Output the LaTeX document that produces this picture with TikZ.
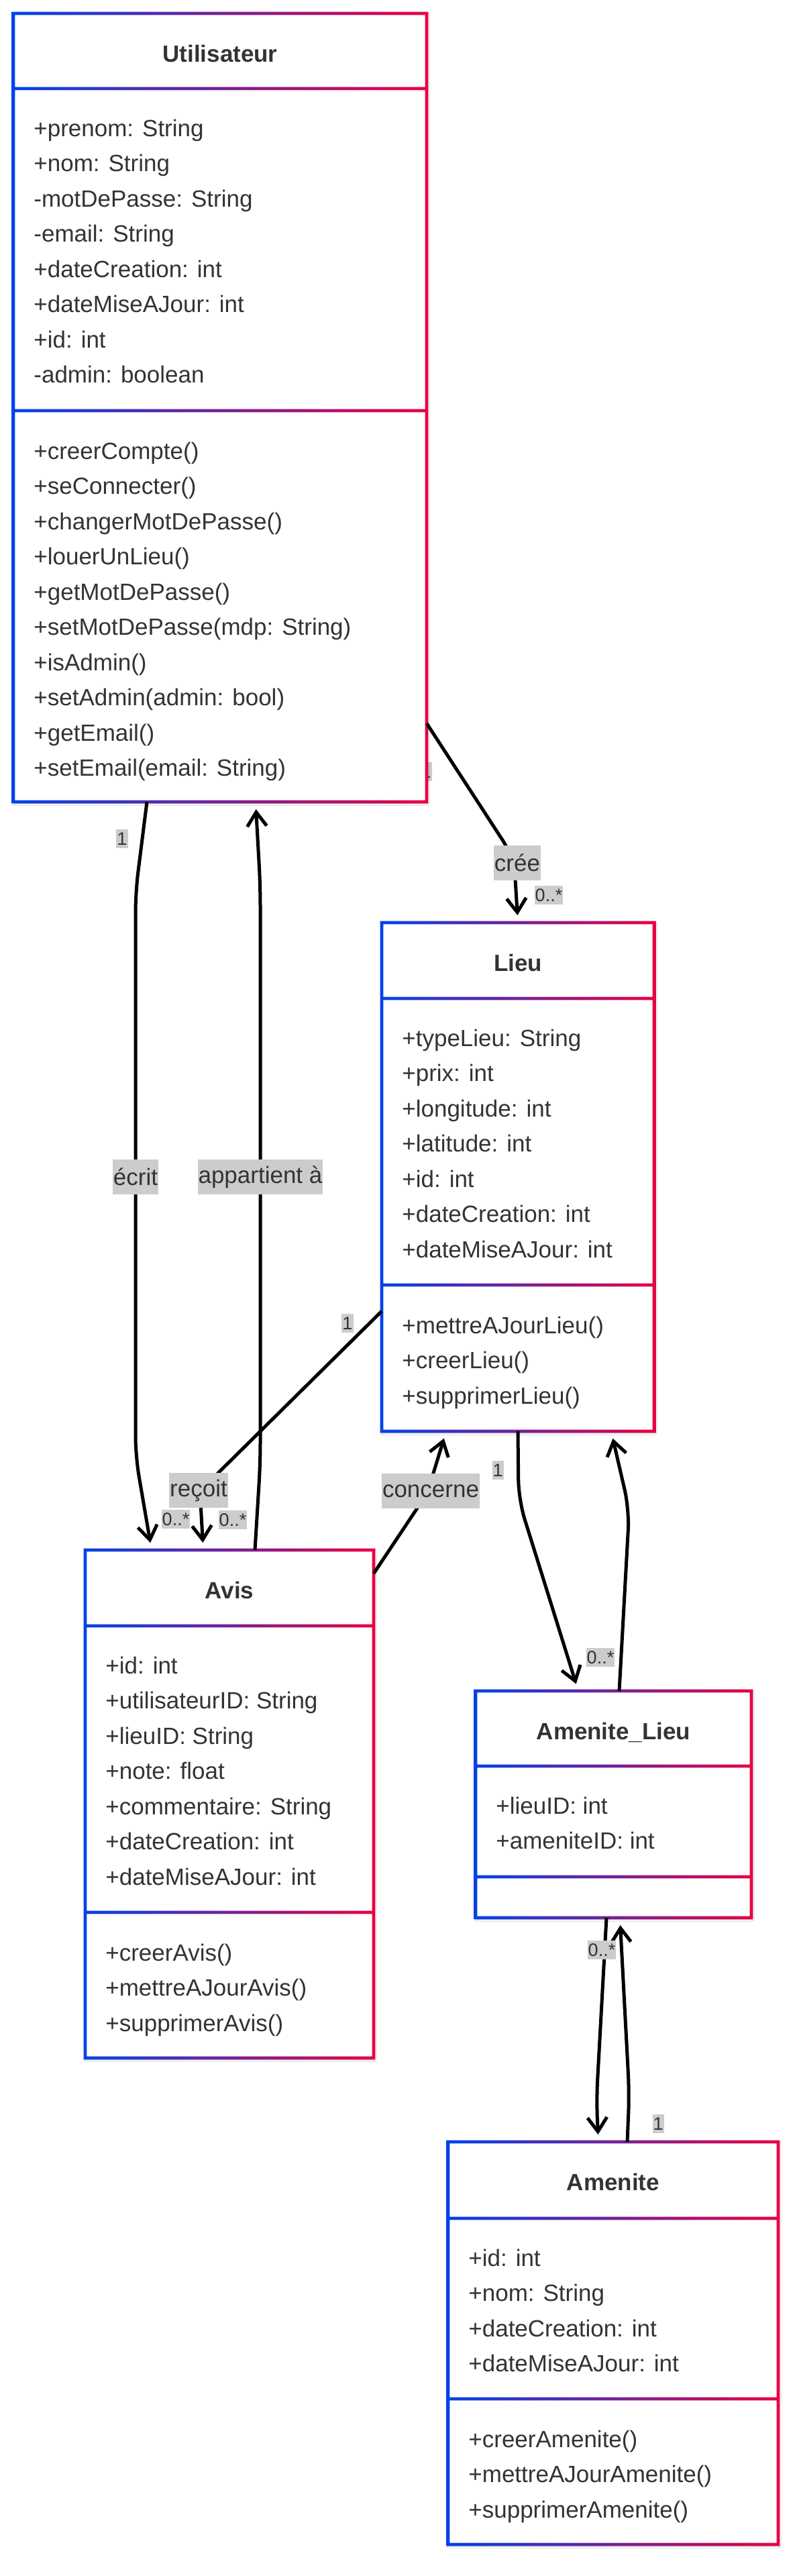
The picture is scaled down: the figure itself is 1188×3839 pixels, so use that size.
\documentclass[tikz,border=0pt]{standalone}
\usepackage{fontspec}
\setmainfont{Liberation Sans}
\usepackage{xcolor}
\usetikzlibrary{arrows.meta,fit,shadows.blur}

\definecolor{gradstart}{HTML}{0042EB}
\definecolor{gradstop}{HTML}{EB0042}
\definecolor{textgray}{HTML}{333333}
\definecolor{labelgray}{HTML}{CCCCCC}

\tikzset{
  classbox/.style={rectangle, fill=white, inner sep=0pt, outer sep=0pt,
    blur shadow={shadow xshift=0.5pt, shadow yshift=-1pt, shadow blur radius=1.5pt, shadow opacity=30}},
  frame/.style={left color=gradstart, right color=gradstop, even odd rule},
  classname/.style={font=\bfseries\fontsize{17.5}{21}\selectfont, text=textgray, anchor=base, inner sep=0pt},
  member/.style={font=\fontsize{17.5}{21}\selectfont, text=textgray, anchor=base west, inner sep=0pt},
  assoc/.style={line width=2.5pt, rounded corners=15pt},
  arrowed/.style={assoc, -{Straight Barb[length=10.5pt, width=14.5pt]}, shorten >=5.5pt},
  edgelabel/.style={fill=labelgray, text=textgray, font=\fontsize{17.5}{21}\selectfont,
    inner xsep=0.5pt, inner ysep=0pt, minimum height=26pt},
  mult/.style={fill=labelgray, text=textgray, font=\fontsize{13.5}{16}\selectfont,
    inner xsep=0.5pt, inner ysep=0pt, minimum height=14pt}
}

\begin{document}
\begin{tikzpicture}[x=0.5pt, y=-0.5pt]
    \path[use as bounding box, fill=white] (0,0) rectangle (1188,3839);

    % label that sits behind Utilisateur
    \node[mult] (m-cree-src) at (635,1150) {1};

    % Utilisateur
    \node[classbox, fit={(20,20) (636,1195)}] (util) {};
    \shade[frame] (17.7,17.7) rectangle (638.3,1197.3) (22.3,22.3) rectangle (633.7,129.7)
        (22.3,134.3) rectangle (633.7,609.7) (22.3,614.3) rectangle (633.7,1192.7);
    \node[classname] (util-name) at (328,92) {Utilisateur};
    \foreach \m [count=\i from 0] in {+prenom: String, +nom: String, -motDePasse: String,
        -email: String, +dateCreation: int, +dateMiseAJour: int, +id: int, -admin: boolean}
        \node[member] (util-a\i) at (50,{203+52.5*\i}) {\m};
    \foreach \m [count=\i from 0] in {+creerCompte(), +seConnecter(), +changerMotDePasse(),
        +louerUnLieu(), +getMotDePasse(), +setMotDePasse(mdp: String), +isAdmin(),
        +setAdmin(admin: bool), +getEmail(), +setEmail(email: String)}
        \node[member] (util-m\i) at (50,{684+52.5*\i}) {\m};

    % Lieu
    \node[classbox, fit={(569,1375) (975,2133)}] (lieu) {};
    \shade[frame] (566.7,1372.7) rectangle (977.3,2135.3) (571.3,1377.3) rectangle (972.7,1485.7)
        (571.3,1490.3) rectangle (972.7,1912.7) (571.3,1917.3) rectangle (972.7,2130.7);
    \node[classname] (lieu-name) at (772,1447) {Lieu};
    \foreach \m [count=\i from 0] in {+typeLieu: String, +prix: int, +longitude: int,
        +latitude: int, +id: int, +dateCreation: int, +dateMiseAJour: int}
        \node[member] (lieu-a\i) at (599,{1559+52.5*\i}) {\m};
    \foreach \m [count=\i from 0] in {+mettreAJourLieu(), +creerLieu(), +supprimerLieu()}
        \node[member] (lieu-m\i) at (599,{1987+52.5*\i}) {\m};

    % Avis
    \node[classbox, fit={(127,2310) (557,3067)}] (avis) {};
    \shade[frame] (124.7,2307.7) rectangle (559.3,3069.3) (129.3,2312.3) rectangle (554.7,2420.7)
        (129.3,2425.3) rectangle (554.7,2847.7) (129.3,2852.3) rectangle (554.7,3064.7);
    \node[classname] (avis-name) at (342,2382) {Avis};
    \foreach \m [count=\i from 0] in {+id: int, +utilisateurID: String, +lieuID: String,
        +note: float, +commentaire: String, +dateCreation: int, +dateMiseAJour: int}
        \node[member] (avis-a\i) at (157,{2494+52.5*\i}) {\m};
    \foreach \m [count=\i from 0] in {+creerAvis(), +mettreAJourAvis(), +supprimerAvis()}
        \node[member] (avis-m\i) at (157,{2922+52.5*\i}) {\m};

    % Amenite_Lieu
    \node[classbox, fit={(709,2520) (1120,2858)}] (al) {};
    \shade[frame] (706.7,2517.7) rectangle (1122.3,2860.3) (711.3,2522.3) rectangle (1117.7,2629.7)
        (711.3,2634.3) rectangle (1117.7,2794.7) (711.3,2799.3) rectangle (1117.7,2855.7);
    \node[classname] (al-name) at (914.5,2592) {Amenite\_Lieu};
    \foreach \m [count=\i from 0] in {+lieuID: int, +ameniteID: int}
        \node[member] (al-a\i) at (739,{2703+52.5*\i}) {\m};

    % Amenite
    \node[classbox, fit={(668,3192) (1160,3792)}] (amen) {};
    \shade[frame] (665.7,3189.7) rectangle (1162.3,3794.3) (670.3,3194.3) rectangle (1157.7,3303.7)
        (670.3,3308.3) rectangle (1157.7,3572.7) (670.3,3577.3) rectangle (1157.7,3789.7);
    \node[classname] (amen-name) at (914,3264) {Amenite};
    \foreach \m [count=\i from 0] in {+id: int, +nom: String, +dateCreation: int, +dateMiseAJour: int}
        \node[member] (amen-a\i) at (698,{3377+52.5*\i}) {\m};
    \foreach \m [count=\i from 0] in {+creerAmenite(), +mettreAJourAmenite(), +supprimerAmenite()}
        \node[member] (amen-m\i) at (698,{3647+52.5*\i}) {\m};

    % relations
    \draw[arrowed] (util.east |- 0,1078) -- (766,1278) -- (772,0 |- lieu.north);
    \draw[arrowed] (219,0 |- util.south) -- (202,1330) -- (202,2170) -- (226,0 |- avis.north);
    \draw[arrowed] (380,0 |- avis.north) -- (388,2180) -- (388,1320) -- (381,0 |- util.south);
    \draw[arrowed] (lieu.west |- 0,1954) -- (298,2222) -- (303,0 |- avis.north);
    \draw[arrowed] (avis.east |- 0,2345) -- (637,2225) -- (665,0 |- lieu.south);
    \draw[arrowed] (772,0 |- lieu.south) -- (773,2235) -- (862,0 |- al.north);
    \draw[arrowed] (923,0 |- al.north) -- (938,2250) -- (911,0 |- lieu.south);
    \draw[arrowed] (904,0 |- al.south) -- (889,3130) -- (892,0 |- amen.north);
    \draw[arrowed] (935,0 |- amen.north) -- (938,3120) -- (924,0 |- al.south);

    % relation labels
    \node[edgelabel] (l-cree) at (771,1286) {crée};
    \node[edgelabel] (l-ecrit) at (202,1754) {écrit};
    \node[edgelabel] (l-appartient) at (388,1754) {appartient à};
    \node[edgelabel] (l-recoit) at (296,2221) {reçoit};
    \node[edgelabel] (l-concerne) at (642,2222) {concerne};

    % multiplicities
    \node[mult] (m-cree) at (818,1334) {0..*};
    \node[mult] (m-ecrit-src) at (182,1250) {1};
    \node[mult] (m-ecrit) at (262,2264) {0..*};
    \node[mult] (m-recoit) at (347,2265) {0..*};
    \node[mult] (m-recoit-src) at (518,1972) {1};
    \node[mult] (m-lieu-src) at (742,2191) {1};
    \node[mult] (m-lieu) at (895,2470) {0..*};
    \node[mult] (m-amen) at (897,2906) {0..*};
    \node[mult] (m-amen-src) at (981,3165) {1};
\end{tikzpicture}
\end{document}
